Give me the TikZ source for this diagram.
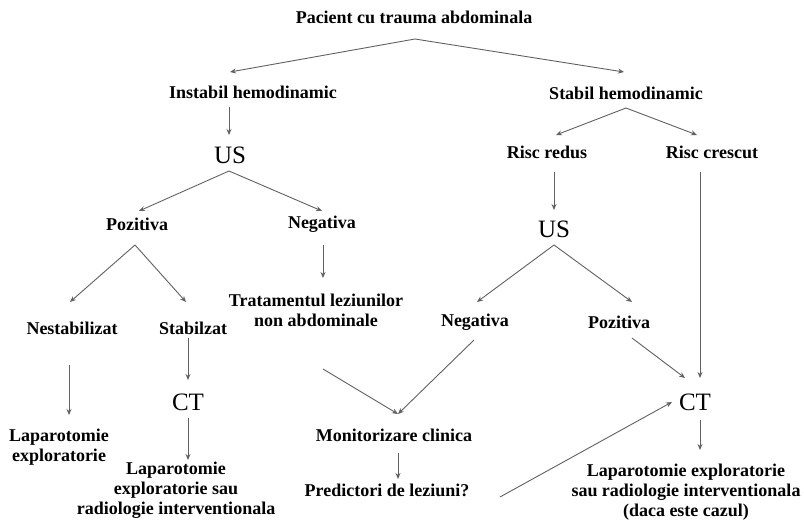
\documentclass[tikz,border=0pt]{standalone}
\usepackage{fontspec}
\setmainfont{Liberation Serif}
\usetikzlibrary{arrows.meta}
\begin{document}
\begin{tikzpicture}[x=1pt,y=-1pt,
  txt/.style={font=\bfseries\fontsize{18}{20}\selectfont, inner sep=0pt, align=center},
  big/.style={font=\fontsize{25}{28}\selectfont, inner sep=0pt},
  conn/.style={draw=black!62, line width=0.9pt, -{Stealth[length=6pt,width=5pt]}}]
\useasboundingbox (0,0) rectangle (804,521);
\fill[white] (0,0) rectangle (804,521);

% text nodes
\node[txt] (pac) at (414,17) {Pacient cu trauma abdominala};
\node[txt] (inst) at (253,92) {Instabil hemodinamic};
\node[txt] (stab) at (626,93) {Stabil hemodinamic};
\node[big] (us1) at (230,155) {US};
\node[txt] (poz1) at (137,224) {Pozitiva};
\node[txt] (neg1) at (322,224) {Negativa};
\node[txt] (trat) at (316,310) {Tratamentul leziunilor\\non abdominale};
\node[txt] (nest) at (72,328) {Nestabilizat};
\node[txt] (stbz) at (193,328) {Stabilzat};
\node[big] (ct1) at (188,402) {CT};
\node[txt] (lap1) at (59,447) {Laparotomie\\exploratorie};
\node[txt] (lap2) at (176,490) {Laparotomie\\exploratorie sau\\radiologie interventionala};
\node[txt] (rr) at (547,152) {Risc redus};
\node[txt] (rc) at (712,152) {Risc crescut};
\node[big] (us2) at (554,229) {US};
\node[txt] (neg2) at (475,322) {Negativa};
\node[txt] (poz2) at (619,322) {Pozitiva};
\node[big] (ct2) at (695,402) {CT};
\node[txt] (mon) at (394,435) {Monitorizare clinica};
\node[txt] (pred) at (387,490) {Predictori de leziuni?};
\node[txt] (lap3) at (686,492) {Laparotomie exploratorie\\sau radiologie interventionala\\(daca este cazul)};

% connector points
\coordinate (pk0) at (415,39);
\coordinate (t0a) at (230,72);
\coordinate (t0b) at (624,72);
\coordinate (s1) at (229,107);
\coordinate (t1) at (229,135);
\coordinate (pk1) at (229,171);
\coordinate (t1a) at (139,211);
\coordinate (t1b) at (322,211);
\coordinate (s2) at (323,245);
\coordinate (t2) at (323,278);
\coordinate (pk2) at (135,245);
\coordinate (t2a) at (70,302);
\coordinate (t2b) at (186,302);
\coordinate (s3) at (69,365);
\coordinate (t3) at (69,415);
\coordinate (s4) at (188,338);
\coordinate (t4) at (188,380);
\coordinate (s5) at (188,418);
\coordinate (t5) at (188,460);
\coordinate (pk3) at (626,108);
\coordinate (t3a) at (556,135);
\coordinate (t3b) at (697,135);
\coordinate (s6) at (554,172);
\coordinate (t6) at (554,210);
\coordinate (s7) at (700,172);
\coordinate (t7) at (700,378);
\coordinate (pk4) at (554,245);
\coordinate (t4a) at (477,302);
\coordinate (t4b) at (632,302);
\coordinate (s8) at (632,338);
\coordinate (t8) at (685,378);
\coordinate (s9) at (474,340);
\coordinate (t9) at (398,414);
\coordinate (s10) at (323,369);
\coordinate (s11) at (398,453);
\coordinate (t11) at (398,479);
\coordinate (s12) at (500,497);
\coordinate (t12) at (672,402);
\coordinate (s13) at (700,420);
\coordinate (t13) at (700,450);

% connectors
\draw[conn] (pk0) -- (t0a);
\draw[conn] (pk0) -- (t0b);
\draw[conn] (s1) -- (t1);
\draw[conn] (pk1) -- (t1a);
\draw[conn] (pk1) -- (t1b);
\draw[conn] (s2) -- (t2);
\draw[conn] (pk2) -- (t2a);
\draw[conn] (pk2) -- (t2b);
\draw[conn] (s3) -- (t3);
\draw[conn] (s4) -- (t4);
\draw[conn] (s5) -- (t5);
\draw[conn] (pk3) -- (t3a);
\draw[conn] (pk3) -- (t3b);
\draw[conn] (s6) -- (t6);
\draw[conn] (s7) -- (t7);
\draw[conn] (pk4) -- (t4a);
\draw[conn] (pk4) -- (t4b);
\draw[conn] (s8) -- (t8);
\draw[conn] (s9) -- (t9);
\draw[conn] (s10) -- (t9);
\draw[conn] (s11) -- (t11);
\draw[conn] (s12) -- (t12);
\draw[conn] (s13) -- (t13);
\end{tikzpicture}
\end{document}
